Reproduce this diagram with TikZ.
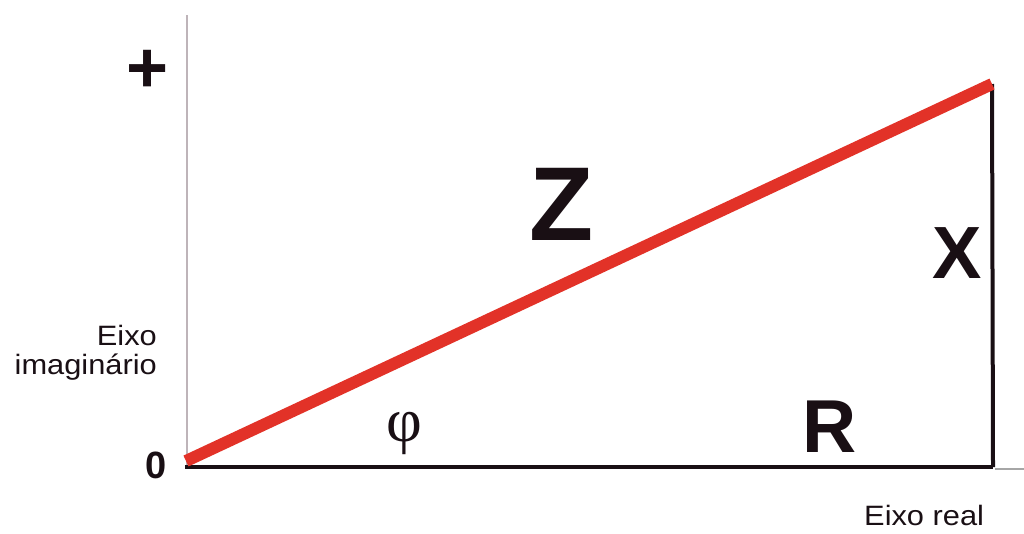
\documentclass[tikz,border=0pt]{standalone}
\usepackage{fontspec}
\setmainfont{Liberation Sans}
\newfontfamily\widesans[FakeStretch=1.1]{Liberation Sans}
\newfontfamily\serifgr{Liberation Serif}
\definecolor{zred}{RGB}{226,50,40}
\definecolor{axisgray}{RGB}{190,180,185}
\definecolor{ink}{RGB}{25,15,20}
\begin{document}
\begin{tikzpicture}[x=1pt,y=-1pt,
  lbl/.style={inner sep=0pt,text=ink},
  axislbl/.style={lbl,font=\widesans\fontsize{28}{28}\selectfont},
  biglbl/.style={lbl,font=\bfseries\fontsize{#1}{#1}\selectfont}]
\useasboundingbox (0,0) rectangle (1024,533);
\coordinate (O) at (187,465);
\coordinate (Itop) at (187,15);
\coordinate (Zend) at (992,84);
\coordinate (Rend) at (993,467);
\coordinate (Rstart) at (185,467);
\coordinate (Rfar) at (1024,469);
\coordinate (Rjoin) at (995,469);
% imaginary axis
\draw[axisgray,line width=1.4pt] (Itop) -- (O);
% real axis continuation
\draw[gray!70,line width=1.3pt] (Rjoin) -- (Rfar);
% R and X sides
\draw[ink,line width=4pt] (Rstart) -- (Rend);
\draw[ink,line width=4pt] (Zend) -- (Rend);
% Z
\draw[zred,line width=12pt] (186,461) -- (Zend);
% labels
\node[biglbl=72] (plus) at (148,71) {+};
\node[biglbl=38,anchor=base] (zero) at (156,478) {0};
\node[axislbl,anchor=base east] (eixo) at (157,345) {Eixo};
\node[axislbl,anchor=base east] (imag) at (157,374) {imaginário};
\node[axislbl,anchor=base west] (real) at (864,525) {Eixo real};
\node[biglbl=105,anchor=base] (Z) at (562,240) {Z};
\node[biglbl=74,anchor=base] (X) at (957,278) {X};
\node[biglbl=75,anchor=base] (R) at (830,452) {R};
\node[lbl,font=\serifgr\fontsize{62}{62}\selectfont,anchor=base] (phi) at (404,441) {φ};
\end{tikzpicture}
\end{document}
